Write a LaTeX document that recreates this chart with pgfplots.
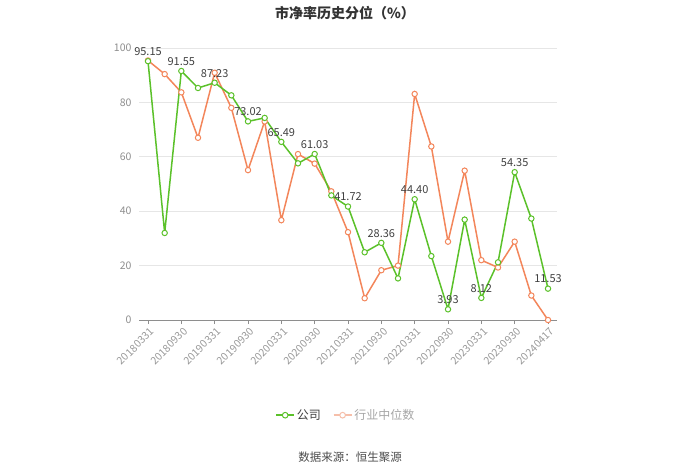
\documentclass[border=0pt]{standalone}
\usepackage{pgfplots}
\pgfplotsset{compat=1.18}
\usepackage{fontspec}
\setmainfont{Noto Sans CJK SC}

\definecolor{gs}{HTML}{5BC12A}
\definecolor{os}{HTML}{F3865B}
\definecolor{osl}{HTML}{F6BFAA}
\definecolor{tick}{HTML}{8E8E8E}
\definecolor{gridc}{HTML}{E6E6E6}

\pgfplotsset{
  gline/.style={gs, line width=1.5pt, mark=*, mark size=2.7pt,
    mark options={fill=white, draw=gs, line width=1pt}},
  oline/.style={os, line width=1.5pt, mark=*, mark size=2.7pt,
    mark options={fill=white, draw=os, line width=1pt}},
}

\begin{document}
\begin{tikzpicture}
\useasboundingbox (0,0) rectangle (700pt,474pt);
\node[font=\fontsize{14}{16}\selectfont\bfseries, text=black!80] at (345pt,461pt) {市净率历史分位（\%）};
\node[font=\fontsize{11.5}{13}\selectfont, text=black!70] at (350pt,17pt) {数据来源：恒生聚源};
\begin{axis}[
    at={(139pt,154pt)}, anchor=south west,
    width=418pt, height=272pt, scale only axis,
    xmin=-0.54, xmax=24.54, ymin=0, ymax=100,
    axis x line*=bottom, axis y line*=left,
    x axis line style={-, draw=tick, line width=0.8pt},
    y axis line style={draw=none},
    xtick={0,2,...,24},
    xticklabels={20180331,20180930,20190331,20190930,20200331,20200930,20210331,20210930,20220331,20220930,20230331,20230930,20240417},
    x tick label style={rotate=45, anchor=north east, font=\fontsize{10.5}{12}\selectfont, text=tick!90, inner sep=1pt, yshift=-2pt},
    ytick={0,20,...,100},
    y tick label style={font=\fontsize{10.5}{12}\selectfont, text=tick},
    ytick style={draw=none},
    xtick style={draw=tick, line width=0.8pt},
    tick align=outside, major tick length=4pt,
    ymajorgrids, grid style={gridc, line width=0.8pt},
    /pgf/number format/assume math mode=true,
    clip=false,
    legend style={at={(0.495,-0.35)}, anchor=center, draw=none,
      font=\fontsize{12}{14}\selectfont, legend columns=2,
      /tikz/every even column/.append style={column sep=10pt}},
    legend cell align=left,
    legend image post style={scale=1.05},
]
\addplot[oline, forget plot] coordinates {
 (0,95.4) (1,90.4) (2,83.7) (3,67.0) (4,90.9) (5,78.0) (6,55.1) (7,73.0)
 (8,36.7) (9,61.0) (10,57.5) (11,47.3) (12,32.3) (13,8.0) (14,18.3) (15,20.0)
 (16,83.1) (17,63.8) (18,28.8) (19,54.9) (20,22.0) (21,19.3) (22,28.8) (23,9.0) (24,0.0)
};
\addplot[gline, forget plot] coordinates {
 (0,95.15) (1,32.0) (2,91.55) (3,85.3) (4,87.23) (5,82.6) (6,73.02) (7,74.3)
 (8,65.49) (9,57.6) (10,61.03) (11,45.8) (12,41.72) (13,24.9) (14,28.36) (15,15.3)
 (16,44.40) (17,23.5) (18,3.93) (19,36.9) (20,8.12) (21,21.2) (22,54.35) (23,37.3) (24,11.53)
};
\addplot[draw=none, mark=none, forget plot,
  nodes near coords, point meta=explicit symbolic,
  every node near coord/.style={font=\fontsize{11}{13}\selectfont, text=black!75, anchor=south, yshift=2pt}]
  coordinates {
 (0,95.15)[95.15] (2,91.55)[91.55] (4,87.23)[87.23] (6,73.02)[73.02]
 (8,65.49)[65.49] (10,61.03)[61.03] (12,41.72)[41.72] (14,28.36)[28.36]
 (16,44.40)[44.40] (18,3.93)[3.93] (20,8.12)[8.12] (22,54.35)[54.35] (24,11.53)[11.53]
};
\addlegendimage{gline}
\addlegendentry{\textcolor{black!75}{公司}}
\addlegendimage{osl, line width=1.5pt, mark=*, mark size=2.7pt, mark options={fill=white, draw=osl, line width=1pt}}
\addlegendentry{\textcolor{black!35}{行业中位数}}
\end{axis}
\end{tikzpicture}
\end{document}
